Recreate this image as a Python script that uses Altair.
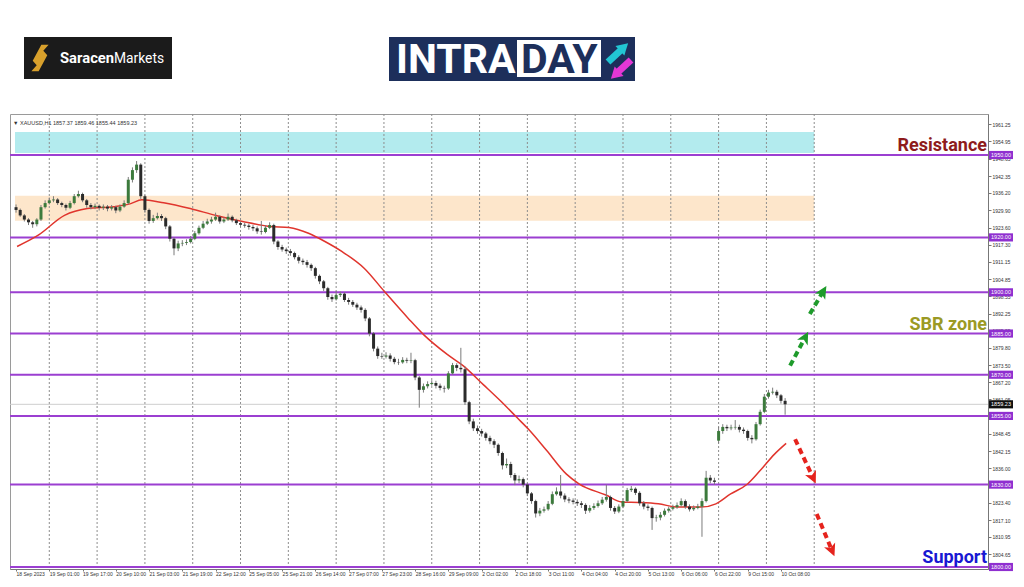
import json
import altair as alt
import pandas as pd

# ---------------- data (2-hour candles) ----------------
opens = [
    1931, 1930, 1928, 1926.5, 1925.5, 1924.8, 1926.5, 1931, 1932.5, 1933.5,
    1933.8, 1932.5, 1931.8, 1930.8, 1932.5, 1935, 1935.8, 1933.5, 1931.8, 1931,
    1931.5, 1930.8, 1931.2, 1930.5, 1931, 1929.8, 1931.2, 1932.5, 1941, 1944.5,
    1946.5, 1935, 1930, 1926, 1927, 1927.8, 1927, 1924, 1919.5, 1916,
    1917.8, 1918, 1918.3, 1919.5, 1921.5, 1923.5, 1925, 1925.8, 1926.5, 1927.5,
    1925.8, 1926.5, 1927.5, 1926.2, 1925.2, 1924.6, 1924.3, 1923.8, 1923.3, 1922.2,
    1922, 1923.5, 1924.5, 1918.5, 1916.5, 1915.6, 1915, 1914.3, 1912.8, 1911.5,
    1911, 1910, 1908.8, 1906, 1904, 1901.5, 1898.3, 1897.5, 1899, 1899.5,
    1897.2, 1896.5, 1895.5, 1894.5, 1893.6, 1890.5, 1885, 1879.5, 1876.8, 1876.6,
    1877, 1875.8, 1874.6, 1874.5, 1875.4, 1875.1, 1875.3, 1869, 1864.5, 1865.8,
    1866.6, 1867, 1866, 1865.2, 1865, 1870.5, 1873.5, 1872.5, 1872, 1860,
    1853, 1850.5, 1849.5, 1848.6, 1847, 1845.8, 1844.5, 1841.5, 1837, 1837.5,
    1833.5, 1831.5, 1832, 1830, 1826.8, 1824, 1819.5, 1820.5, 1821, 1823,
    1826.5, 1827.5, 1826, 1824.6, 1824.2, 1823.7, 1823.2, 1822.6, 1820.5, 1821.5,
    1822.2, 1823.2, 1824.5, 1825.5, 1821.5, 1820.2, 1822, 1824, 1828, 1828.5,
    1827, 1823.2, 1822, 1821.5, 1817.8, 1818, 1819, 1820.5, 1821.2, 1821.8,
    1822.5, 1824, 1822, 1821, 1821.5, 1822, 1824, 1832.5, 1831.5, 1846,
    1849.5, 1851, 1850.5, 1850.8, 1851, 1850, 1849.5, 1847, 1846.5, 1852,
    1856.5, 1862, 1863.5, 1863.8, 1862.5, 1860.5,
]
closes = [
    1930, 1928, 1926.5, 1925.5, 1924.8, 1926.5, 1931, 1932.5, 1933.5, 1933.8,
    1932.5, 1931.8, 1930.8, 1932.5, 1935, 1935.8, 1933.5, 1931.8, 1931, 1931.5,
    1930.8, 1931.2, 1930.5, 1931, 1929.8, 1931.2, 1932.5, 1941, 1944.5, 1946.5,
    1935, 1930, 1926, 1927, 1927.8, 1927, 1924, 1919.5, 1916, 1917.8,
    1918, 1918.3, 1919.5, 1921.5, 1923.5, 1925, 1925.8, 1926.5, 1927.5, 1925.8,
    1926.5, 1927.5, 1926.2, 1925.2, 1924.6, 1924.3, 1923.8, 1923.3, 1922.2, 1922,
    1923.5, 1924.5, 1918.5, 1916.5, 1915.6, 1915, 1914.3, 1912.8, 1911.5, 1911,
    1910, 1908.8, 1906, 1904, 1901.5, 1898.3, 1897.5, 1899, 1899.5, 1897.2,
    1896.5, 1895.5, 1894.5, 1893.6, 1890.5, 1885, 1879.5, 1876.8, 1876.6, 1877,
    1875.8, 1874.6, 1874.5, 1875.4, 1875.1, 1875.3, 1869, 1864.5, 1865.8, 1866.6,
    1867, 1866, 1865.2, 1865, 1870.5, 1873.5, 1872.5, 1872, 1860, 1853,
    1850.5, 1849.5, 1848.6, 1847, 1845.8, 1844.5, 1841.5, 1837, 1837.5, 1833.5,
    1831.5, 1832, 1830, 1826.8, 1824, 1819.5, 1820.5, 1821, 1823, 1826.5,
    1827.5, 1826, 1824.6, 1824.2, 1823.7, 1823.2, 1822.6, 1820.5, 1821.5, 1822.2,
    1823.2, 1824.5, 1825.5, 1821.5, 1820.2, 1822, 1824, 1828, 1828.5, 1827,
    1823.2, 1822, 1821.5, 1817.8, 1818, 1819, 1820.5, 1821.2, 1821.8, 1822.5,
    1824, 1822, 1821, 1821.5, 1822, 1824, 1832.5, 1831.5, 1831, 1849.5,
    1851, 1850.5, 1850.8, 1851, 1850, 1849.5, 1847, 1846.5, 1852, 1856.5,
    1862, 1863.5, 1863.8, 1862.5, 1860.5, 1859.23,
]
highs = [
    1932, 1930.5, 1928.5, 1927, 1926, 1927, 1931.8, 1933.5, 1934.5, 1935,
    1934.3, 1933, 1932.3, 1933.3, 1935.8, 1937, 1936.3, 1934, 1932.5, 1932.3,
    1932, 1932, 1931.8, 1931.8, 1931.5, 1932, 1933.5, 1942, 1945.5, 1947.8,
    1947, 1935.5, 1930.5, 1928.2, 1929, 1928.5, 1927.5, 1924.5, 1920, 1918.8,
    1919, 1919.3, 1920.5, 1922.3, 1924.3, 1926, 1926.8, 1927.5, 1929, 1928,
    1927.3, 1928.7, 1928, 1926.8, 1925.8, 1925.3, 1925, 1924.5, 1924, 1926,
    1924.5, 1925.5, 1925, 1919, 1917.3, 1916.3, 1915.8, 1914.8, 1913.5, 1912.3,
    1911.8, 1910.5, 1909.3, 1906.5, 1904.5, 1902, 1899.2, 1900.5, 1900.3, 1900,
    1898, 1897.2, 1896.2, 1895.2, 1894.2, 1891, 1885.5, 1880.3, 1878, 1878.2,
    1877.8, 1876.5, 1875.8, 1876.4, 1876.2, 1878, 1875.8, 1869.5, 1866.8, 1867.6,
    1868, 1867.8, 1866.8, 1866, 1871.3, 1874.3, 1874.2, 1879.8, 1873, 1860.5,
    1854, 1851.5, 1850.3, 1849.2, 1847.8, 1846.5, 1845, 1842, 1839.5, 1838.3,
    1834.2, 1833.3, 1832.6, 1830.5, 1827.3, 1824.5, 1821.5, 1822, 1824, 1827.5,
    1829, 1833.5, 1826.8, 1825.4, 1825, 1824.6, 1824, 1823.2, 1822.5, 1823.2,
    1824.2, 1825.5, 1830, 1826, 1822.2, 1822.8, 1825, 1828.8, 1829.5, 1829,
    1827.6, 1824, 1822.8, 1822, 1819, 1820, 1821.3, 1822, 1822.7, 1823.5,
    1825, 1824.6, 1822.8, 1822.4, 1823, 1825, 1835, 1833.5, 1832.5, 1851,
    1852, 1851.8, 1851.8, 1853.5, 1851.8, 1850.8, 1850, 1848, 1852.8, 1857.3,
    1863, 1864.5, 1865.3, 1864.5, 1863, 1861.5,
]
lows = [
    1929, 1927.5, 1925.8, 1924.5, 1923.5, 1924, 1926, 1930.5, 1932, 1932.8,
    1931.8, 1931, 1929.8, 1930.3, 1932, 1934.5, 1932.8, 1930.8, 1930.2, 1930.3,
    1929.8, 1930, 1929.5, 1929.8, 1928.8, 1929.2, 1930.8, 1932, 1940, 1943.5,
    1934, 1929, 1925, 1925.3, 1926.5, 1926, 1923, 1918.5, 1913.5, 1915,
    1916.8, 1917.2, 1917.8, 1919, 1921, 1923, 1924.5, 1925, 1926, 1925,
    1925.2, 1926, 1925.5, 1924.5, 1923.8, 1923.5, 1922.8, 1922.3, 1921.3, 1921,
    1921.5, 1923, 1917.5, 1915.5, 1914.8, 1914, 1913.3, 1912, 1910.5, 1910,
    1909, 1907.8, 1905, 1903, 1900.5, 1897.3, 1896.5, 1897, 1898.3, 1896.5,
    1895.5, 1894.7, 1893.6, 1892.6, 1889.5, 1884, 1878.5, 1875.8, 1875.8, 1875.9,
    1874.8, 1873.8, 1873.6, 1874, 1874.2, 1874.2, 1868, 1858, 1863.5, 1865,
    1866, 1865, 1864.3, 1863.5, 1864.5, 1870, 1871.3, 1870.8, 1859, 1852,
    1849.5, 1848.5, 1847.5, 1846, 1844.7, 1843.3, 1840.5, 1835.5, 1836, 1832.5,
    1829.8, 1830.5, 1829, 1825.8, 1823, 1818, 1818.5, 1819.8, 1820.5, 1822.5,
    1826, 1825, 1823.6, 1823.2, 1822.8, 1822.2, 1821.5, 1819.3, 1819.8, 1820.8,
    1821.6, 1822.6, 1823.8, 1820.5, 1819.3, 1819.6, 1821.4, 1823.5, 1827.3, 1826.2,
    1822.3, 1821, 1820.5, 1813.5, 1816.5, 1817, 1818.4, 1819.8, 1820.6, 1821.2,
    1822, 1821.2, 1820.2, 1820.4, 1821, 1811, 1823.5, 1830.5, 1830, 1845,
    1848.5, 1849.5, 1849.8, 1850, 1849, 1848.5, 1846, 1845, 1846, 1851.5,
    1856, 1861.3, 1862.8, 1861.5, 1859.5, 1855.44,
]
bar_hours = 2  # each candle covers two H1 bars

# moving average (red line): time in H1 bars, value
ma_time = [0.5, 10.5, 23.3, 34.3, 47.1, 55.2, 60.5, 71, 83.8, 96.2, 109, 121.9,
           131.4, 141, 148.6, 156.7, 167.6, 177.1, 188.6, 196.2, 207.6, 215.2,
           224.8, 232.9, 241, 247.1, 255.2, 264.8, 271, 283.8, 291.4, 299.5, 309,
           318.6, 329.5, 336.7, 343.8, 351.9, 358.1, 364.8, 370.5]
ma_value = [1916.7, 1920.7, 1928, 1930.5, 1931.2, 1932.3, 1933.7, 1932.6, 1930.5,
            1928, 1925.8, 1924, 1923.6, 1921.4, 1918.5, 1914.9, 1908.7, 1900.4,
            1890.6, 1884.5, 1877.3, 1873.2, 1866.4, 1860.6, 1854.4, 1849.7, 1842.5,
            1833.8, 1830.2, 1826.2, 1823.7, 1823.5, 1823, 1821.8, 1821.8, 1823,
            1826.6, 1830.2, 1835.2, 1841, 1845]

x_tick_values = [0, 16, 32, 48, 64, 80, 96, 112, 128, 144, 160, 176, 192, 208,
                 224, 240, 256, 272, 288, 304, 320, 336, 352, 368]
x_tick_labels = ["18 Sep 2023", "19 Sep 01:00", "19 Sep 17:00", "20 Sep 10:00",
                 "21 Sep 03:00", "21 Sep 19:00", "22 Sep 12:00", "25 Sep 05:00",
                 "25 Sep 21:00", "26 Sep 14:00", "27 Sep 07:00", "27 Sep 23:00",
                 "28 Sep 16:00", "29 Sep 09:00", "2 Oct 02:00", "2 Oct 18:00",
                 "3 Oct 11:00", "4 Oct 04:00", "4 Oct 20:00", "5 Oct 13:00",
                 "6 Oct 06:00", "6 Oct 22:00", "9 Oct 15:00", "10 Oct 08:00"]
day_separators = [16, 39, 62, 85, 108, 131, 154, 177, 200, 223, 246, 269, 292,
                  315, 338, 361, 384]
y_tick_values = [1961.25, 1954.95, 1948.65, 1942.35, 1936.20, 1929.90, 1923.60,
                 1917.30, 1911.15, 1904.85, 1898.55, 1892.25, 1885.95, 1879.80,
                 1873.50, 1867.20, 1861.05, 1854.75, 1848.45, 1842.15, 1836.00,
                 1829.70, 1823.40, 1817.10, 1810.95, 1804.65]
level_values = [1950, 1920, 1900, 1885, 1870, 1855, 1830, 1800]
last_price = 1859.23
resistance_zone = [1950.75, 1958.35]
sbr_zone = [1926.1, 1935.2]
zone_end = 384

up_arrow_t1 = [372.4, 381.9]
up_arrow_p1 = [1873.3, 1892.1]
up_arrow_t2 = [379.5, 388.1]
up_arrow_p2 = [1883.4, 1900.1]
up_arrow_angle = [28, 31]
down_arrow_t1 = [374.8, 385.2]
down_arrow_p1 = [1846.5, 1819.3]
down_arrow_t2 = [383.3, 392.4]
down_arrow_p2 = [1832.7, 1806.3]
down_arrow_angle = [155, 157]

header_text = "\u25BC XAUUSD,H1  1857.37 1859.46 1855.44 1859.23"

# ---------------- scales / axes ----------------
W, H = 978, 455
xscale = alt.Scale(domain=[-0.5, 465.2], nice=False, zero=False)
yscale = alt.Scale(domain=[1799.27, 1964.93], nice=False, zero=False)
PURPLE = "#9b3fd1"
label_expr = json.dumps(x_tick_labels) + "[round(datum.value / 16)]"

AX_X = alt.Axis(values=x_tick_values, labelExpr=label_expr, labelAlign="left",
                labelBaseline="top", labelFontSize=5, labelFont="Liberation Sans",
                labelColor="#333", labelPadding=0, labelFlush=False, labelOverlap=False,
                tickSize=2, tickColor="#777", domainColor="#777", grid=False, title=None)
AX_Y = alt.Axis(orient="right", values=y_tick_values, format=".2f", labelFontSize=5,
                labelFont="Liberation Sans", labelColor="#333", labelPadding=1,
                tickSize=3, tickColor="#777", domainColor="#777", grid=False,
                title=None, labelOverlap=False, labelFlush=False)


def X(f):
    return alt.X(f, type="quantitative", scale=xscale, axis=AX_X)


def Y(f):
    return alt.Y(f, type="quantitative", scale=yscale, axis=AX_Y)


n = len(closes)
candles = pd.DataFrame({
    "t": [i * bar_hours for i in range(n)],
    "open": opens, "close": closes, "high": highs, "low": lows,
})
candles["up"] = [c >= o for o, c in zip(opens, closes)]

ma_df = pd.DataFrame({"t": ma_time, "v": ma_value})
days = pd.DataFrame({"t": day_separators})
levels = pd.DataFrame({"p": level_values, "lab": [f"{v:.2f}" for v in level_values]})
lastdf = pd.DataFrame({"p": [last_price], "lab": [f"{last_price:.2f}"]})
one = pd.DataFrame({"a": [0]})


def zone(lohi, color):
    d = pd.DataFrame({"lo": [lohi[0]], "hi": [lohi[1]], "t0": [-0.5], "t1": [zone_end]})
    return alt.Chart(d).mark_rect(color=color).encode(x=X("t0"), x2="t1", y=Y("lo"), y2="hi")


grid_layer = alt.Chart(days).mark_rule(color="#8d8d8d", strokeDash=[2, 2], strokeWidth=1).encode(
    x=X("t"))
price_line = alt.Chart(lastdf).mark_rule(color="#cfcfcf", strokeWidth=1).encode(y=Y("p"))
level_layer = alt.Chart(levels).mark_rule(color=PURPLE, strokeWidth=2).encode(y=Y("p"))
ma_layer = alt.Chart(ma_df).mark_line(color="#e0352d", strokeWidth=1.5, interpolate="monotone").encode(
    x=X("t"), y=Y("v"))
wick_layer = alt.Chart(candles).mark_rule(color="#7b7b7b", strokeWidth=1).encode(
    x=X("t"), y=Y("low"), y2="high")
body_up = alt.Chart(candles).transform_filter("datum.up").mark_bar(width=3, color="#3c7a3c").encode(
    x=X("t"), y=Y("open"), y2="close")
body_dn = alt.Chart(candles).transform_filter("!datum.up").mark_bar(width=3, color="#2b2b2b").encode(
    x=X("t"), y=Y("open"), y2="close")

ARROW_SHAPE = "M0,-1L0.85,0.75L0,0.3L-0.85,0.75Z"


def arrow(t1, p1, t2, p2, ang, color):
    d = pd.DataFrame({"t1": t1, "p1": p1, "t2": t2, "p2": p2, "ang": ang})
    shaft = alt.Chart(d).mark_rule(strokeWidth=4, strokeDash=[6, 4], color=color).encode(
        x=X("t1"), y=Y("p1"), x2="t2", y2="p2")
    head = alt.Chart(d).mark_point(shape=ARROW_SHAPE, filled=True, size=200, opacity=1,
                                   color=color).encode(
        x=X("t2"), y=Y("p2"), angle=alt.Angle("ang:Q", scale=None))
    return [shaft, head]


def annotation(price, txt, color):
    d = pd.DataFrame({"p": [price], "txt": [txt]})
    return alt.Chart(d).mark_text(align="right", baseline="alphabetic", font="Roboto",
                                  fontWeight="bold", fontSize=18, dy=-4, color=color).encode(
        x=alt.value(977), y=Y("p"), text="txt:N")


LABEL_SHAPE = "M-1,-0.34H1V0.34H-1Z"
level_box = alt.Chart(levels).mark_point(shape=LABEL_SHAPE, filled=True, size=576,
                                         color="#8f2fd0", opacity=1).encode(
    x=alt.value(991), y=Y("p"))
level_txt = alt.Chart(levels).mark_text(fontSize=5.5, color="white", font="Liberation Sans").encode(
    x=alt.value(991), y=Y("p"), text="lab:N")
last_box = alt.Chart(lastdf).mark_point(shape=LABEL_SHAPE, filled=True, size=576,
                                        color="#111111", opacity=1).encode(
    x=alt.value(991), y=Y("p"))
last_txt = alt.Chart(lastdf).mark_text(fontSize=5.5, color="white", font="Liberation Sans").encode(
    x=alt.value(991), y=Y("p"), text="lab:N")

header = alt.Chart(one).mark_text(align="left", baseline="middle", fontSize=5.5,
                                  color="#333", font="Liberation Sans").encode(
    x=alt.value(3), y=alt.value(9), text=alt.value(header_text))

# ---------------- logos above the chart ----------------
# plot origin is at page (10, 114)
sar_bg = alt.Chart(one).mark_rect(color="#1b1b1b").encode(
    x=alt.value(14), x2=alt.value(162), y=alt.value(-77), y2=alt.value(-35))
S_SHAPE = "M0.1,-1L0.65,-1L0.25,-0.55L0.55,-0.2L-0.1,1L-0.65,1L-0.25,0.55L-0.55,0.2Z"
sar_icon = alt.Chart(one).mark_point(shape=S_SHAPE, filled=True, size=700,
                                     color="#d8a02c", opacity=1).encode(
    x=alt.value(30), y=alt.value(-56))
sar_t1 = alt.Chart(one).mark_text(align="left", baseline="alphabetic", font="Roboto",
                                  fontWeight="bold", fontSize=14.8, color="white").encode(
    x=alt.value(50), y=alt.value(-51), text=alt.value("Saracen"))
sar_t2 = alt.Chart(one).mark_text(align="left", baseline="alphabetic", font="Roboto",
                                  fontSize=13.8, color="white").encode(
    x=alt.value(104), y=alt.value(-51), text=alt.value("Markets"))

NAVY = "#1d2f5b"
intra_bg = alt.Chart(one).mark_rect(color=NAVY).encode(
    x=alt.value(379), x2=alt.value(625), y=alt.value(-77), y2=alt.value(-33))
day_bg = alt.Chart(one).mark_rect(color="white").encode(
    x=alt.value(507), x2=alt.value(591), y=alt.value(-74), y2=alt.value(-37))
intra_t = alt.Chart(one).mark_text(align="left", baseline="alphabetic", font="Roboto",
                                   fontWeight="bold", fontSize=41, color="white").encode(
    x=alt.value(386), y=alt.value(-41), text=alt.value("INTRA"))
day_t = alt.Chart(one).mark_text(align="left", baseline="alphabetic", font="Roboto",
                                 fontWeight="bold", fontSize=41, color=NAVY).encode(
    x=alt.value(511), y=alt.value(-41), text=alt.value("DAY"))
cy_shaft = alt.Chart(one).mark_rule(color="#22c6d3", strokeWidth=7).encode(
    x=alt.value(598), y=alt.value(-52), x2=alt.value(611), y2=alt.value(-64))
cy_head = alt.Chart(one).mark_point(shape="triangle-up", filled=True, size=170, angle=47,
                                    color="#22c6d3", opacity=1).encode(
    x=alt.value(614), y=alt.value(-67))
mg_shaft = alt.Chart(one).mark_rule(color="#e437d5", strokeWidth=7).encode(
    x=alt.value(621), y=alt.value(-54), x2=alt.value(608), y2=alt.value(-42))
mg_head = alt.Chart(one).mark_point(shape="triangle-up", filled=True, size=170, angle=227,
                                    color="#e437d5", opacity=1).encode(
    x=alt.value(605), y=alt.value(-39))

layers = [
    zone(resistance_zone, "#b3ebee"), zone(sbr_zone, "#fde6cb"),
    grid_layer, price_line, level_layer, ma_layer, wick_layer, body_up, body_dn,
    *arrow(up_arrow_t1, up_arrow_p1, up_arrow_t2, up_arrow_p2, up_arrow_angle, "#1e9b2b"),
    *arrow(down_arrow_t1, down_arrow_p1, down_arrow_t2, down_arrow_p2, down_arrow_angle, "#e5231d"),
    annotation(1950, "Resistance", "#8e1b1b"),
    annotation(1885, "SBR zone", "#9b9a24"),
    annotation(1800, "Support", "#1818d2"),
    level_box, level_txt, last_box, last_txt, header,
    sar_bg, sar_icon, sar_t1, sar_t2, intra_bg, day_bg, intra_t, day_t,
    cy_shaft, cy_head, mg_shaft, mg_head,
]

chart = alt.layer(*layers).properties(
    width=W, height=H,
    padding={"left": 2, "top": 106, "right": 28, "bottom": 10},
    autosize=alt.AutoSizeParams(type="none"),
    background="white",
).configure_view(stroke="#9a9a9a", strokeWidth=1)

chart.save("out.html", embed_options={"renderer": "svg", "actions": False})
